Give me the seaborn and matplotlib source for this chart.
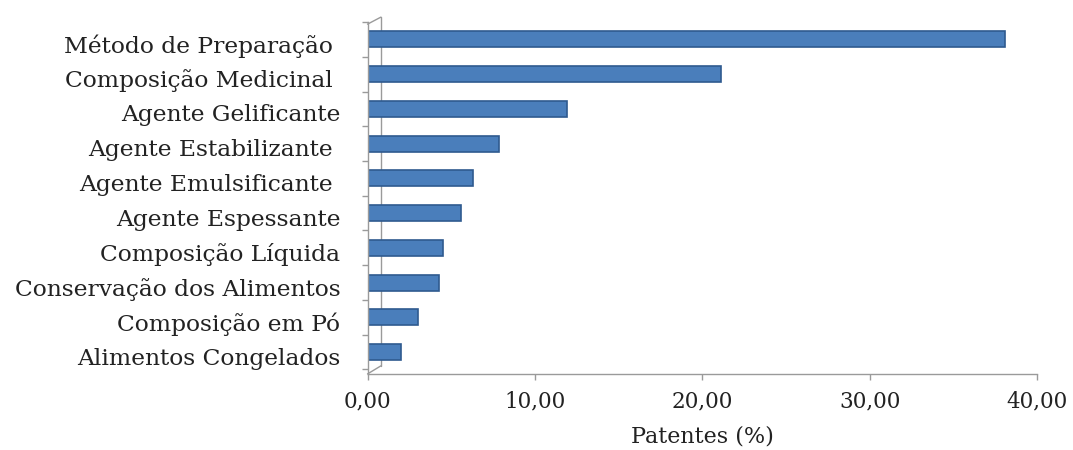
import matplotlib
matplotlib.use("Agg")
import matplotlib.pyplot as plt
import matplotlib.transforms as mtransforms
import seaborn as sns
import pandas as pd
import numpy as np

# Patent distribution by application area
categorias = [
    "Método de Preparação ",
    "Composição Medicinal ",
    "Agente Gelificante",
    "Agente Estabilizante ",
    "Agente Emulsificante ",
    "Agente Espessante",
    "Composição Líquida",
    "Conservação dos Alimentos",
    "Composição em Pó",
    "Alimentos Congelados",
]
patentes_pct = [38.1, 21.1, 11.9, 7.85, 6.3, 5.6, 4.5, 4.3, 3.0, 2.0]
xticks = [0, 10, 20, 30, 40]
xtick_labels = ["0,00", "10,00", "20,00", "30,00", "40,00"]

df = pd.DataFrame({"categoria": categorias, "pct": patentes_pct})

sns.set_theme(style="white")
plt.rcParams["font.family"] = ["DejaVu Serif"]

fig = plt.figure(figsize=(10.73, 4.5), dpi=100)
ax = fig.add_axes([0.3425, 0.169, 0.624, 0.782])

sns.barplot(data=df, y="categoria", x="pct", orient="h", color="#4A7EBB",
            width=0.46, saturation=1, edgecolor="#2F5A8F", linewidth=1.2, ax=ax)

ax.set_xlim(0, 40)
ax.set_ylim(9.63, -0.46)

wall = "#9A9A9A"
for side in ["top", "right"]:
    ax.spines[side].set_visible(False)
for side in ["left", "bottom"]:
    ax.spines[side].set_color(wall)
    ax.spines[side].set_linewidth(1.0)

# back wall of the 3-D frame
trans = mtransforms.blended_transform_factory(ax.transData, ax.transAxes)
depth = 0.8
ax.plot([depth, depth], [0.023, 1.014], color=wall, lw=1.0, transform=trans, clip_on=False, zorder=0.5)
ax.plot([0, depth], [0.994, 1.014], color=wall, lw=1.0, transform=trans, clip_on=False)
ax.plot([0, depth], [0.0, 0.023], color=wall, lw=1.0, transform=trans, clip_on=False)

ax.set_xticks(xticks)
ax.set_xticklabels(xtick_labels, fontsize=15.5, color="#222222")
ax.tick_params(axis="x", direction="out", length=4, width=1, color=wall, pad=8, bottom=True)

ax.set_yticks(range(len(categorias)))
ax.set_yticklabels(categorias, fontsize=16.8, color="#222222")
ax.tick_params(axis="y", length=0, pad=19.5)
# labels sit slightly below the bar fronts, as in a 3-D bar chart
shift = mtransforms.ScaledTranslation(0, -4 / 100, fig.dpi_scale_trans)
for lbl in ax.get_yticklabels():
    lbl.set_transform(lbl.get_transform() + shift)
ax.set_yticks(np.arange(-0.5, len(categorias), 1.0), minor=True)
ax.tick_params(axis="y", which="minor", direction="out", length=4, width=1, color=wall, left=True)

ax.set_ylabel("")
ax.set_xlabel("Patentes (%)", fontsize=16, color="#222222", labelpad=9)

fig.savefig("out.png", dpi=100, facecolor="white")
